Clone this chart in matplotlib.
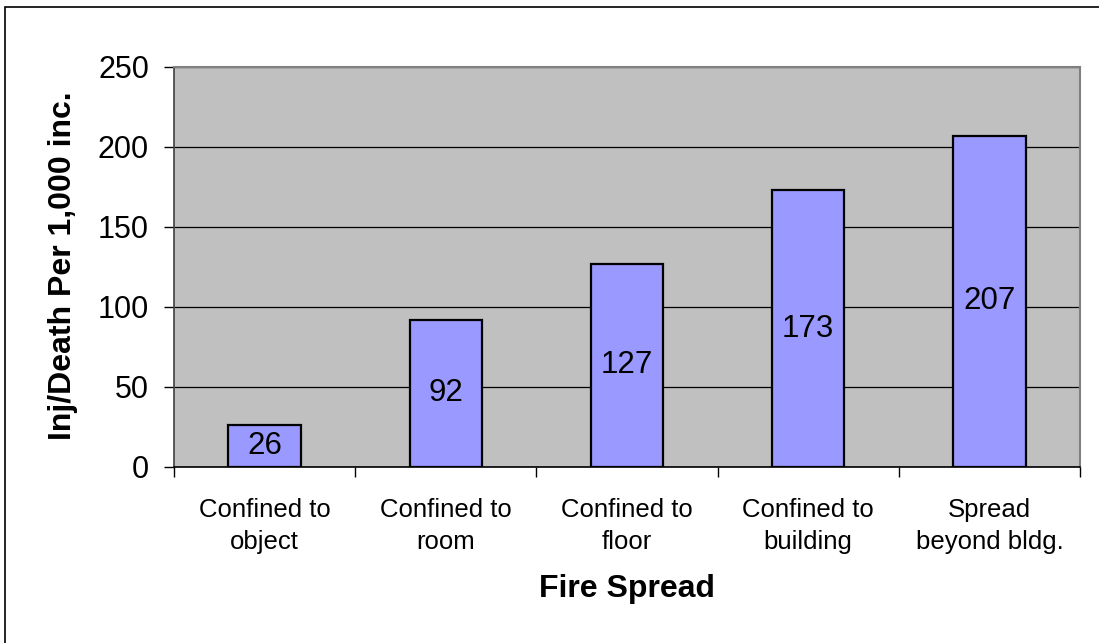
import matplotlib.pyplot as plt
import matplotlib.patches as mpatches
import numpy as np

# data
categories = ["Confined to\nobject", "Confined to\nroom", "Confined to\nfloor",
              "Confined to\nbuilding", "Spread\nbeyond bldg."]
values = [26, 92, 127, 173, 207]
y_ticks = [0, 50, 100, 150, 200, 250]

plt.rcParams["font.family"] = ["Liberation Sans", "DejaVu Sans"]

W, H = 1099, 643
fig = plt.figure(figsize=(W / 100, H / 100), dpi=100)

# outer chart border (only top/left visible in reference)
fig.patches.append(mpatches.Rectangle((5 / W, -0.1), 1.2, 1 - 7 / H + 0.1,
                                      transform=fig.transFigure, fill=False,
                                      edgecolor="black", linewidth=1.2))

ax = fig.add_axes([174 / W, 1 - 467 / H, (1080 - 174) / W, (467 - 67) / H])
ax.set_facecolor("#C0C0C0")

x = np.arange(len(categories))
ax.bar(x, values, width=0.4, color="#9999FF", edgecolor="black",
       linewidth=1.6, zorder=3)
for xi, v in zip(x, values):
    ax.text(xi, v / 2, str(v), ha="center", va="center", fontsize=22.5, zorder=4)

ax.set_xlim(-0.5, len(categories) - 0.5)
ax.set_ylim(0, 250)
ax.set_yticks(y_ticks)
ax.yaxis.grid(True, color="black", linewidth=0.9, zorder=1)
ax.set_axisbelow(True)
ax.tick_params(axis="y", direction="out", length=7, width=1, pad=11,
               labelsize=22)

ax.set_xticks(x)
ax.set_xticklabels(categories, fontsize=18.5, linespacing=1.42)
ax.tick_params(axis="x", which="major", length=0, pad=22)
ax.set_xticks(np.arange(len(categories) + 1) - 0.5, minor=True)
ax.tick_params(axis="x", which="minor", direction="out", length=7, width=1)

for side in ["top", "right"]:
    ax.spines[side].set_color("#808080")
    ax.spines[side].set_linewidth(1.5)
ax.spines["left"].set_color("#404040")
ax.spines["left"].set_linewidth(1.2)
ax.spines["bottom"].set_color("black")
ax.spines["bottom"].set_linewidth(1.2)

fig.text(627 / W, 1 - 589 / H, "Fire Spread", ha="center", va="center",
         fontsize=23, fontweight="bold")
fig.text(63 / W, 1 - 266 / H, "Inj/Death Per 1,000 inc.", ha="center",
         va="center", rotation=90, fontsize=23, fontweight="bold")

fig.savefig("out.png", dpi=100)
